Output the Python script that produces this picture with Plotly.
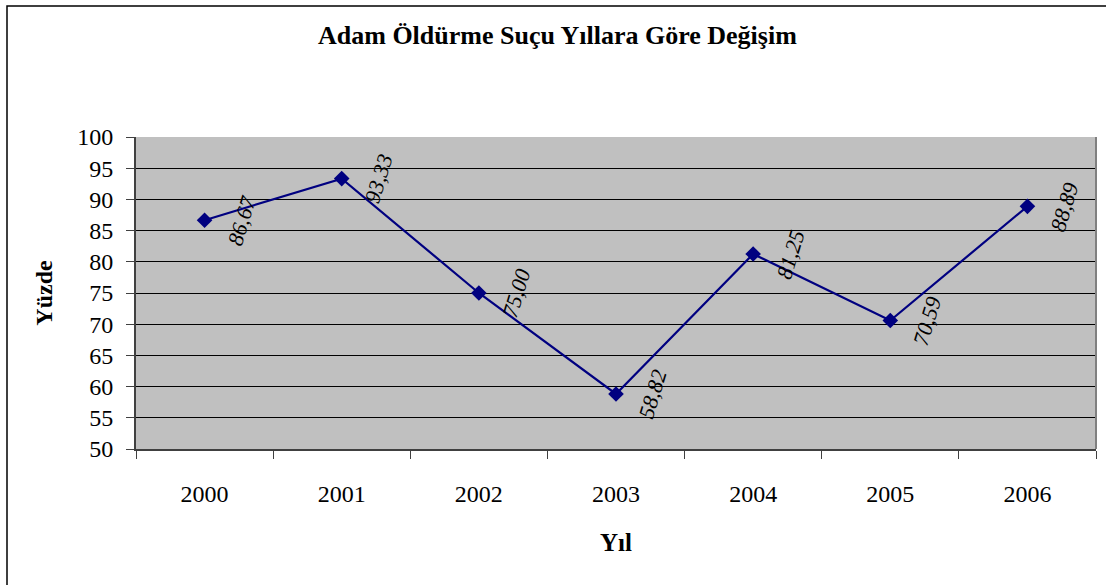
import plotly.graph_objects as go

years = ["2000", "2001", "2002", "2003", "2004", "2005", "2006"]
values = [86.67, 93.33, 75.00, 58.82, 81.25, 70.59, 88.89]
labels = ["86,67", "93,33", "75,00", "58,82", "81,25", "70,59", "88,89"]

FONT = "Liberation Serif"
W, H = 1106, 585
L, R, T, B = 136, 10, 137, 136
pw, ph = W - L - R, H - T - B

fig = go.Figure()
fig.add_trace(go.Scatter(
    x=years, y=values, mode="lines+markers",
    line=dict(color="#000080", width=2.2),
    marker=dict(symbol="diamond", size=12, color="#000080"),
    showlegend=False, hoverinfo="skip",
))

for i, (yv, t) in enumerate(zip(values, labels)):
    fig.add_annotation(x=i, y=yv, text=t, showarrow=False, textangle=-73,
                       xref="x", yref="y", xshift=37, yshift=0,
                       font=dict(family=FONT, size=22, color="black", style="italic"))

def px2x(p):
    return (p - L) / pw

def px2y(p):
    return (H - B - p) / ph

fig.add_shape(type="rect", xref="paper", yref="paper",
              x0=px2x(7), x1=px2x(1120), y0=px2y(6), y1=px2y(600),
              line=dict(color="black", width=1.5), layer="below")

fig.update_layout(
    width=W, height=H,
    margin=dict(l=L, r=R, t=T, b=B),
    paper_bgcolor="white", plot_bgcolor="#C0C0C0",
    font=dict(family=FONT, color="black", size=24),
    title=dict(text="<b>Adam Öldürme Suçu Yıllara Göre Değişim</b>",
               x=0.504, xanchor="center", y=1 - 35 / H, yanchor="middle",
               font=dict(family=FONT, size=26)),
    xaxis=dict(type="category", showgrid=False, showline=True,
               linecolor="#404040", linewidth=2, mirror=False,
               ticks="outside", tickson="boundaries", ticklen=8, tickcolor="#404040",
               tickfont=dict(family=FONT, size=24),
               title=dict(text="<b>Yıl</b>", font=dict(family=FONT, size=25), standoff=28),
               ticklabelstandoff=22, range=[-0.5, 6.5]),
    yaxis=dict(range=[50, 100], dtick=5, showgrid=True, gridcolor="black", gridwidth=1,
               ticks="outside", ticklen=8, tickcolor="#404040", showline=True,
               linecolor="#404040", linewidth=2, zeroline=False,
               tickfont=dict(family=FONT, size=24), ticklabelstandoff=8,
               title=dict(text="<b>Yüzde</b>", font=dict(family=FONT, size=24), standoff=18)),
)

# right plot-area border (grey)
fig.add_shape(type="line", xref="paper", yref="paper", x0=1, x1=1, y0=0, y1=1,
              line=dict(color="#808080", width=2))

fig.write_html("out.html", config={"displayModeBar": False},
               post_script="document.body.style.margin='0';document.body.style.overflow='hidden';")
